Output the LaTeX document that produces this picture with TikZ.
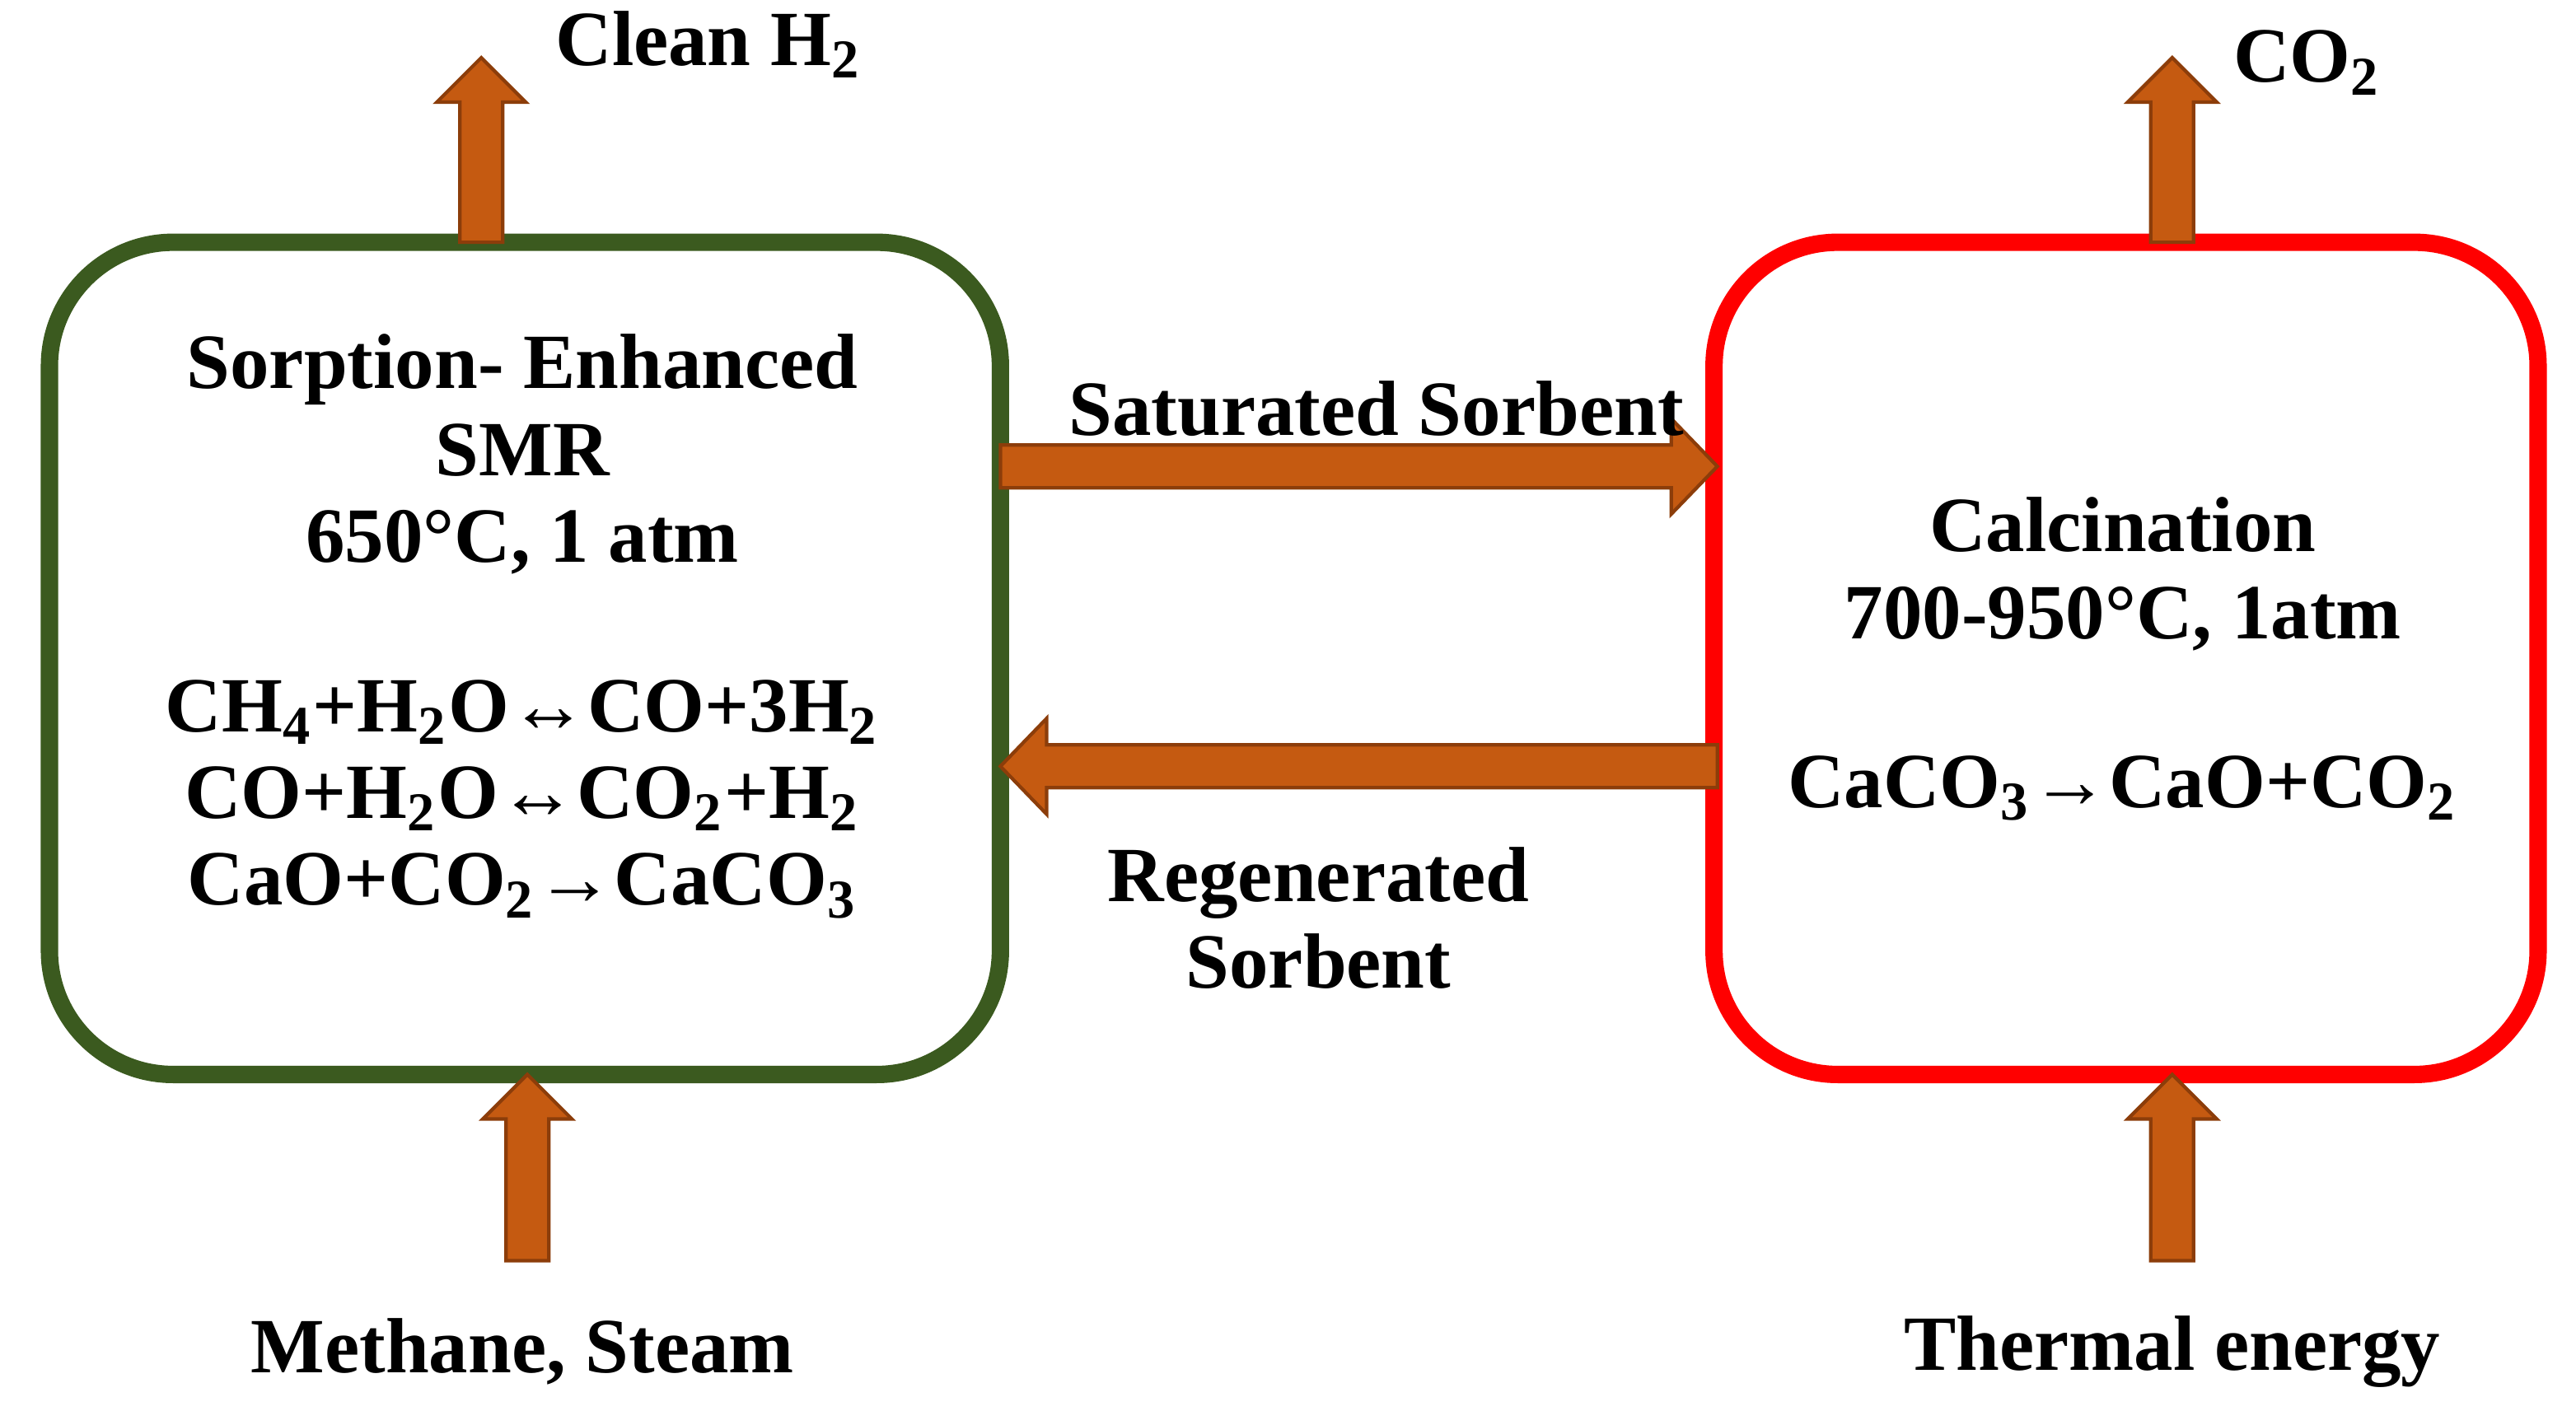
\documentclass[tikz,border=0pt]{standalone}
\usepackage{fontspec}
\setmainfont{Liberation Serif}
\usetikzlibrary{calc}
\definecolor{arr}{HTML}{C55A11}
\definecolor{arrd}{HTML}{8C3D0A}
\definecolor{gbox}{HTML}{3B5A1F}
\tikzset{
 box/.style={draw,line width=3pt,rounded corners=0.75cm,minimum width=5.77cm,minimum height=5.05cm},
 lbl/.style={font=\bfseries\fontsize{13.5}{15}\selectfont,align=center,inner sep=0},
 ba/.style={fill=arr,draw=arrd,line width=0.6pt}
}
% vertical up arrow: center x, bottom y, top y
\newcommand\uparr[3]{\path[ba] (#1-0.13,#2) -- (#1-0.13,#3-0.27) -- (#1-0.27,#3-0.27) -- (#1,#3) -- (#1+0.27,#3-0.27) -- (#1+0.13,#3-0.27) -- (#1+0.13,#2) -- cycle;}
% horizontal arrows: y, x start, x tip, dir (1 or -1)
\newcommand\harr[4]{\path[ba] (#2,#1+0.13) -- (#3-#4*0.28,#1+0.13) -- (#3-#4*0.28,#1+0.29) -- (#3,#1) -- (#3-#4*0.28,#1-0.29) -- (#3-#4*0.28,#1-0.13) -- (#2,#1-0.13) -- cycle;}
\begin{document}
\begin{tikzpicture}
\useasboundingbox (0,0) rectangle (15.63,-8.56);
\node[box,draw=gbox] (L) at (3.185,-3.995) {};
\node[box,draw=red,minimum width=5.0cm] (R) at (12.9,-3.995) {};
\uparr{2.92}{-1.47}{-0.35}
\uparr{13.18}{-1.47}{-0.35}
\uparr{3.2}{-7.65}{-6.52}
\uparr{13.18}{-7.65}{-6.52}
\harr{-2.83}{6.07}{10.42}{1}
\harr{-4.65}{10.42}{6.07}{-1}
\node[lbl] (t1) at (4.3,-0.27) {Clean H\textsubscript{2}};
\node[lbl] (t2) at (14.0,-0.38) {CO\textsubscript{2}};
\node[lbl] (t3) at (3.17,-8.2) {Methane, Steam};
\node[lbl] (t4) at (13.18,-8.2) {Thermal energy};
\node[lbl] (t5) at (8.35,-2.48) {Saturated Sorbent};
\node[lbl] (t6) at (8.0,-5.57) {Regenerated\\Sorbent};
\node[lbl] (t7) at (3.17,-3.8) {Sorption- Enhanced\\SMR\\650\textdegree C, 1 atm\\[0.5cm]CH\textsubscript{4}+H\textsubscript{2}O↔CO+3H\textsubscript{2}\\CO+H\textsubscript{2}O↔CO\textsubscript{2}+H\textsubscript{2}\\CaO+CO\textsubscript{2}→CaCO\textsubscript{3}};
\node[lbl] (t8) at (12.88,-4.0) {Calcination\\700-950\textdegree C, 1atm\\[0.5cm]CaCO\textsubscript{3}→CaO+CO\textsubscript{2}};
\end{tikzpicture}
\end{document}
